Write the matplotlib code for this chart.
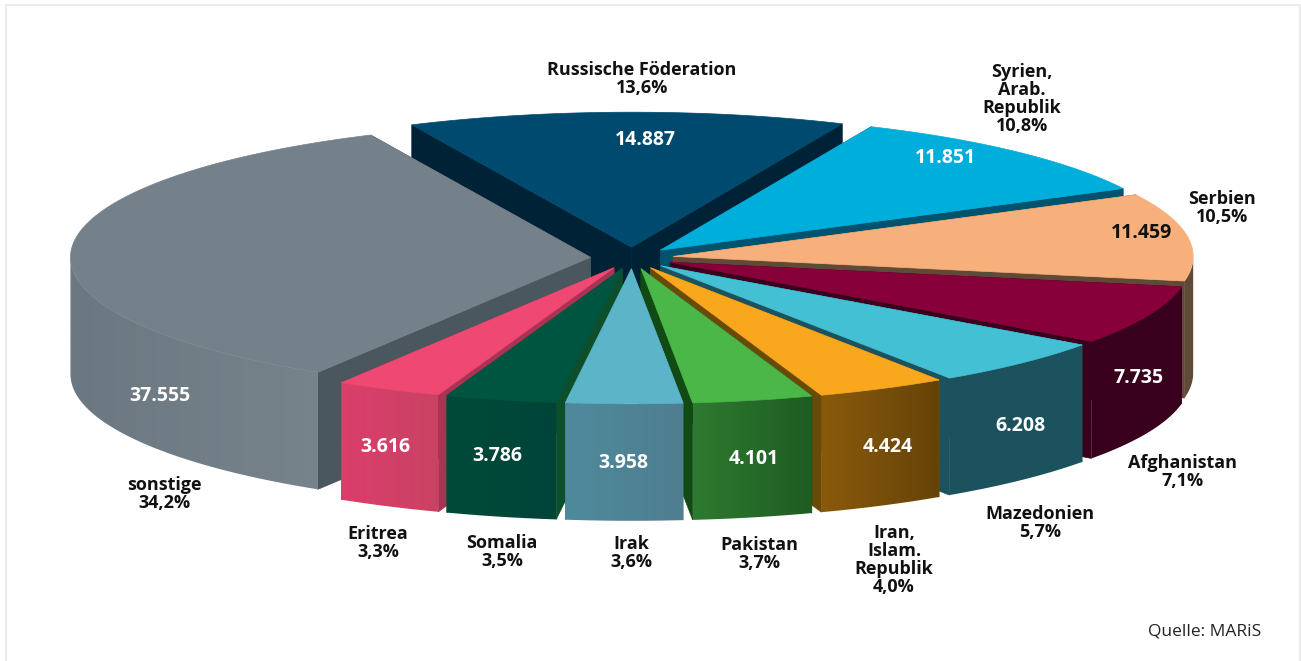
import numpy as np
import matplotlib
matplotlib.use('Agg')
import matplotlib.pyplot as plt
from matplotlib.patches import Polygon, Rectangle
from matplotlib.colors import to_rgb

# --- data, clockwise from the back of the pie ---
countries = ['Syrien,\nArab.\nRepublik', 'Serbien', 'Afghanistan', 'Mazedonien',
             'Iran,\nIslam.\nRepublik', 'Pakistan', 'Irak', 'Somalia', 'Eritrea',
             'sonstige', 'Russische Föderation']
values = [11851, 11459, 7735, 6208, 4424, 4101, 3958, 3786, 3616, 37555, 14887]
value_labels = ['11.851', '11.459', '7.735', '6.208', '4.424', '4.101', '3.958',
                '3.786', '3.616', '37.555', '14.887']
shares = ['10,8%', '10,5%', '7,1%', '5,7%', '4,0%', '3,7%', '3,6%', '3,5%', '3,3%',
          '34,2%', '13,6%']

# --- colours: top, cut face, outer wall left, outer wall right ---
top_colors = ['#00aedb', '#f7b07c', '#87003a', '#44c0d4', '#f9a81d', '#4bb749',
              '#5bb4c7', '#005540', '#ee4873', '#75818a', '#004a70']
cut_colors = ['#00536e', '#5f4a38', '#38001c', '#1b525e', '#6a4a08', '#124a14',
              '#3f7a88', '#0d4f2a', '#a93355', '#4b575e', '#002236']
wall_left = ['#00536e', '#5f4a38', '#38001c', '#1b525e', '#8a5a0c', '#2e7a30',
             '#4e8a9c', '#004a38', '#db3e6c', '#6b7881', '#003c5a']
wall_right = ['#00536e', '#5f4a38', '#38001c', '#1b525e', '#654308', '#1e5c22',
              '#4f7e90', '#00443a', '#c94263', '#7a868e', '#003c5a']
value_colors = ['white', '#111111', 'white', 'white', 'white', 'white', 'white',
                'white', 'white', 'white', 'white']

# --- label places in picture pixels ---
value_xy = [(945, 158), (1141, 233), (1139, 378), (1020, 426), (888, 447), (754, 459),
            (623, 463), (497, 456), (385, 447), (160, 396), (645, 140)]
name_xy = [(1022, 99), (1222, 208), (1183, 472), (1040, 523), (894, 560), (759, 554),
           (631, 553), (502, 552), (378, 543), (164, 494), (642, 79)]

# --- pie geometry ---
cx, cy = 632, 258
rx, ry = 520, 135
depth = 117
explode = 0.08
start = 66.1

plt.rcParams['font.family'] = ['Open Sans', 'DejaVu Sans']

fig = plt.figure(figsize=(13.01, 6.61), dpi=100)
ax = fig.add_axes([0, 0, 1, 1])
ax.axis('off')
ax.add_patch(Rectangle((6, 5), 1294, 670, fc='white', ec='#ececec', lw=1.5))


def rim(a0, a1, ox, oy, n=120):
    t = np.radians(np.linspace(a0, a1, n))
    return np.column_stack([ox + rx * np.cos(t), oy - ry * np.sin(t)])


fracs = np.array(values) / sum(values)
ends = start - np.cumsum(fracs) * 360
starts = ends + fracs * 360
mids = (starts + ends) / 2

# back slices first
z = 2
for i in np.argsort(-np.sin(np.radians(mids))):
    ox = cx + explode * rx * np.cos(np.radians(mids[i]))
    oy = cy - explode * ry * np.sin(np.radians(mids[i]))
    arc = rim(starts[i], ends[i], ox, oy)
    down = np.array([0, depth])
    apex = np.array([ox, oy])
    for corner in (arc[0], arc[-1]):
        ax.add_patch(Polygon([apex, corner, corner + down, apex + down],
                             fc=cut_colors[i], ec=cut_colors[i], lw=0.5, zorder=z))
    # outer wall, gradient across the visible part
    front = arc[arc[:, 1] >= oy]
    if len(front) > 1:
        wall = Polygon(np.vstack([front, front[::-1] + down]), fc='none', ec='none',
                       transform=ax.transData, zorder=z)
        ax.add_patch(wall)
        grad = np.linspace(to_rgb(wall_left[i]), to_rgb(wall_right[i]), 64)[None, :, :]
        lo, hi = arc[:, 0].min(), arc[:, 0].max()
        im = ax.imshow(grad, extent=(lo, hi, oy + ry + depth + 10, oy - 10), aspect='auto',
                       interpolation='bilinear', zorder=z + 0.1)
        im.set_clip_path(wall)
    ax.add_patch(Polygon(np.vstack([apex, arc]), fc=top_colors[i], ec=top_colors[i],
                         lw=0.5, zorder=z + 0.2))
    z += 1

for i in range(len(values)):
    ax.text(*value_xy[i], value_labels[i], color=value_colors[i], fontsize=14,
            fontweight='bold', ha='center', va='center', zorder=50)
    ax.text(*name_xy[i], countries[i] + '\n' + shares[i], color='#111111', fontsize=13,
            fontweight='bold', ha='center', va='center', linespacing=0.98, zorder=50)

ax.text(1205, 631, 'Quelle: MARiS', color='#222222', fontsize=12.5, ha='center', va='center',
        zorder=50)

ax.set_xlim(0, 1301)
ax.set_ylim(661, 0)
fig.savefig('out.png', dpi=100)
